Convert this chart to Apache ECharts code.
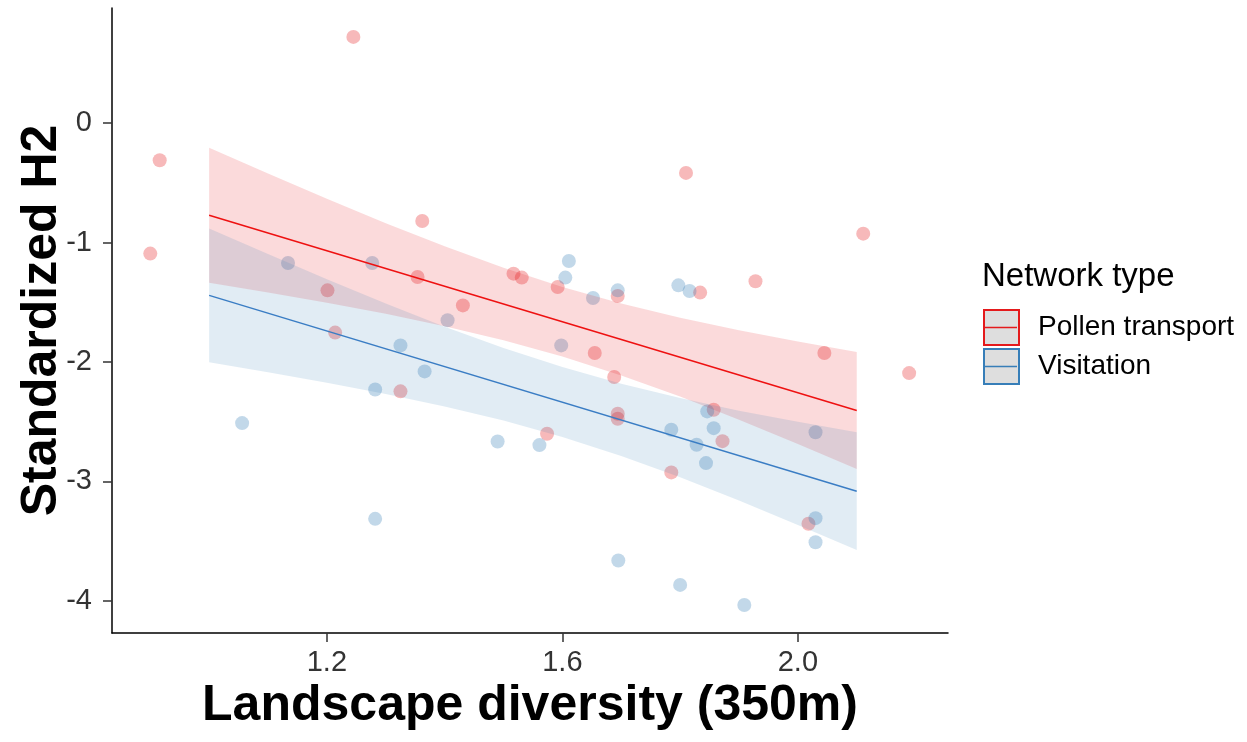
<!DOCTYPE html>
<html>
<head>
<meta charset="utf-8">
<script src="https://cdn.jsdelivr.net/npm/echarts@6/dist/echarts.min.js"></script>
<style>
html,body{margin:0;padding:0;background:#fff;}
#chart{width:1247px;height:742px;}
</style>
</head>
<body>
<div id="chart"></div>
<script>
// ---- data ----
const redX = [1.245, 0.916, 0.900, 1.362, 1.354, 1.201, 1.431, 1.517, 1.531, 1.214, 1.592, 1.694, 1.810, 1.834, 1.928, 2.111, 1.325, 1.574, 1.655, 1.688, 1.694, 1.694, 1.857, 1.872, 1.785, 2.045, 2.189, 2.018];
const redY = [0.723, -0.310, -1.092, -0.819, -1.288, -1.400, -1.526, -1.260, -1.293, -1.754, -1.372, -1.447, -0.416, -1.419, -1.324, -0.925, -2.246, -2.601, -1.925, -2.126, -2.433, -2.475, -2.400, -2.663, -2.925, -1.925, -2.093, -3.355];
const blueX = [1.134, 1.277, 1.405, 1.611, 1.605, 1.652, 1.694, 1.797, 1.816, 1.325, 1.366, 1.282, 1.056, 1.490, 1.561, 1.282, 1.598, 1.785, 1.828, 1.846, 1.857, 1.844, 2.030, 2.030, 2.030, 1.695, 1.800, 1.909];
const blueY = [-1.171, -1.171, -1.651, -1.154, -1.293, -1.464, -1.400, -1.358, -1.405, -1.861, -2.079, -2.230, -2.512, -2.666, -2.696, -3.314, -1.861, -2.568, -2.693, -2.414, -2.554, -2.847, -2.588, -3.308, -3.510, -3.663, -3.867, -4.035];

const fitX = [1.0, 2.1];
const redFit = [-0.771, -2.406];
const blueFit = [-1.442, -3.082];

const bandX = [1.0, 1.1, 1.2, 1.3, 1.4, 1.5, 1.6, 1.7, 1.8, 1.9, 2.0, 2.1];
const redUpper = [-0.206, -0.422, -0.632, -0.837, -1.031, -1.211, -1.372, -1.511, -1.630, -1.735, -1.829, -1.916];
const redLower = [-1.336, -1.418, -1.504, -1.597, -1.701, -1.817, -1.954, -2.113, -2.290, -2.483, -2.687, -2.896];
const blueUpper = [-0.882, -1.096, -1.306, -1.510, -1.704, -1.883, -2.043, -2.182, -2.302, -2.408, -2.501, -2.589];
const blueLower = [-2.002, -2.086, -2.174, -2.268, -2.372, -2.491, -2.629, -2.788, -2.966, -3.160, -3.365, -3.575];

const xTicks = [1.2, 1.6, 2.0];
const yTicks = [-4, -3, -2, -1, 0];
const groups = ['Pollen transport', 'Visitation'];
const legendTitle = 'Network type';
const xTitle = 'Landscape diversity (350m)';
const yTitle = 'Standardized H2';

// ---- styling ----
const RED = '#E41A1C';
const BLUE = '#377EB8';
const FONT = "'Liberation Sans', Arial, sans-serif";

const zip = (a, b) => a.map((v, i) => [v, b[i]]);

function bandSeries(upper, lower, fill) {
  return {
    type: 'custom',
    silent: true,
    z: 2,
    data: [[bandX[0], upper[0]]],
    renderItem: function (params, api) {
      const pts = [];
      for (let i = 0; i < bandX.length; i++) pts.push(api.coord([bandX[i], upper[i]]));
      for (let i = bandX.length - 1; i >= 0; i--) pts.push(api.coord([bandX[i], lower[i]]));
      return { type: 'polygon', shape: { points: pts }, style: { fill: fill } };
    }
  };
}

const chart = echarts.init(document.getElementById('chart'), null, { renderer: 'canvas' });
chart.setOption({
  backgroundColor: '#fff',
  animation: false,
  grid: { left: 112, right: 299, top: 8, bottom: 109, containLabel: false, outerBoundsMode: 'none' },
  title: {
    text: legendTitle, left: 982, top: 260, padding: 0,
    textStyle: { fontFamily: FONT, fontSize: 33, fontWeight: 'normal', color: '#000' }
  },
  legend: {
    orient: 'vertical', left: 983, top: 309, padding: 0,
    itemWidth: 35, itemHeight: 35, itemGap: 2,
    textStyle: { fontFamily: FONT, fontSize: 28, color: '#000', padding: [3, 0, 0, 14] },
    data: [
      { name: groups[0], icon: 'rect', itemStyle: { color: '#DEDEDE', borderColor: RED, borderWidth: 2 } },
      { name: groups[1], icon: 'rect', itemStyle: { color: '#DEDEDE', borderColor: BLUE, borderWidth: 2 } }
    ]
  },
  graphic: [
    { type: 'line', shape: { x1: 984, y1: 327.5, x2: 1017, y2: 327.5 }, style: { stroke: RED, lineWidth: 1.5 }, z: 100 },
    { type: 'line', shape: { x1: 984, y1: 366.5, x2: 1017, y2: 366.5 }, style: { stroke: BLUE, lineWidth: 1.5 }, z: 100 }
  ],
  xAxis: {
    type: 'value', min: 0.835, max: 2.255,
    name: xTitle, nameLocation: 'middle', nameGap: 48, nameMoveOverlap: false,
    nameTextStyle: { fontFamily: FONT, fontSize: 50, fontWeight: 'bold', color: '#000' },
    axisLine: { show: true, onZero: false, lineStyle: { color: '#000', width: 1.5 } },
    axisTick: { show: true, customValues: xTicks, length: 9, lineStyle: { color: '#333', width: 1.5 } },
    axisLabel: { customValues: xTicks, margin: 15, fontFamily: FONT, fontSize: 29, color: '#333',
      formatter: v => v.toFixed(1) },
    splitLine: { show: false }
  },
  yAxis: {
    type: 'value', min: -4.27, max: 0.965,
    name: yTitle, nameLocation: 'middle', nameGap: 45, nameMoveOverlap: false,
    nameTextStyle: { fontFamily: FONT, fontSize: 50, fontWeight: 'bold', color: '#000' },
    axisLine: { show: true, onZero: false, lineStyle: { color: '#000', width: 1.5 } },
    axisTick: { show: true, customValues: yTicks, length: 9, lineStyle: { color: '#333', width: 1.5 } },
    axisLabel: { customValues: yTicks, margin: 20, fontFamily: FONT, fontSize: 29, color: '#333',
      formatter: v => String(Math.round(v)) },
    splitLine: { show: false }
  },
  series: [
    { name: 'Pollen pts', type: 'scatter', z: 1, symbol: 'circle', symbolSize: 14,
      itemStyle: { color: 'rgba(228,26,28,0.38)' }, data: zip(redX, redY) },
    { name: 'Visitation pts', type: 'scatter', z: 1, symbol: 'circle', symbolSize: 14,
      itemStyle: { color: 'rgba(55,126,184,0.38)' }, data: zip(blueX, blueY) },
    bandSeries(redUpper, redLower, 'rgba(228,26,28,0.16)'),
    bandSeries(blueUpper, blueLower, 'rgba(55,126,184,0.15)'),
    { name: groups[0], type: 'line', z: 5, showSymbol: false, symbol: 'none',
      lineStyle: { color: '#EE1111', width: 1.5 }, itemStyle: { color: RED }, data: zip(fitX, redFit) },
    { name: groups[1], type: 'line', z: 5, showSymbol: false, symbol: 'none',
      lineStyle: { color: '#3A7DC4', width: 1.5 }, itemStyle: { color: BLUE }, data: zip(fitX, blueFit) }
  ]
});
</script>
</body>
</html>
